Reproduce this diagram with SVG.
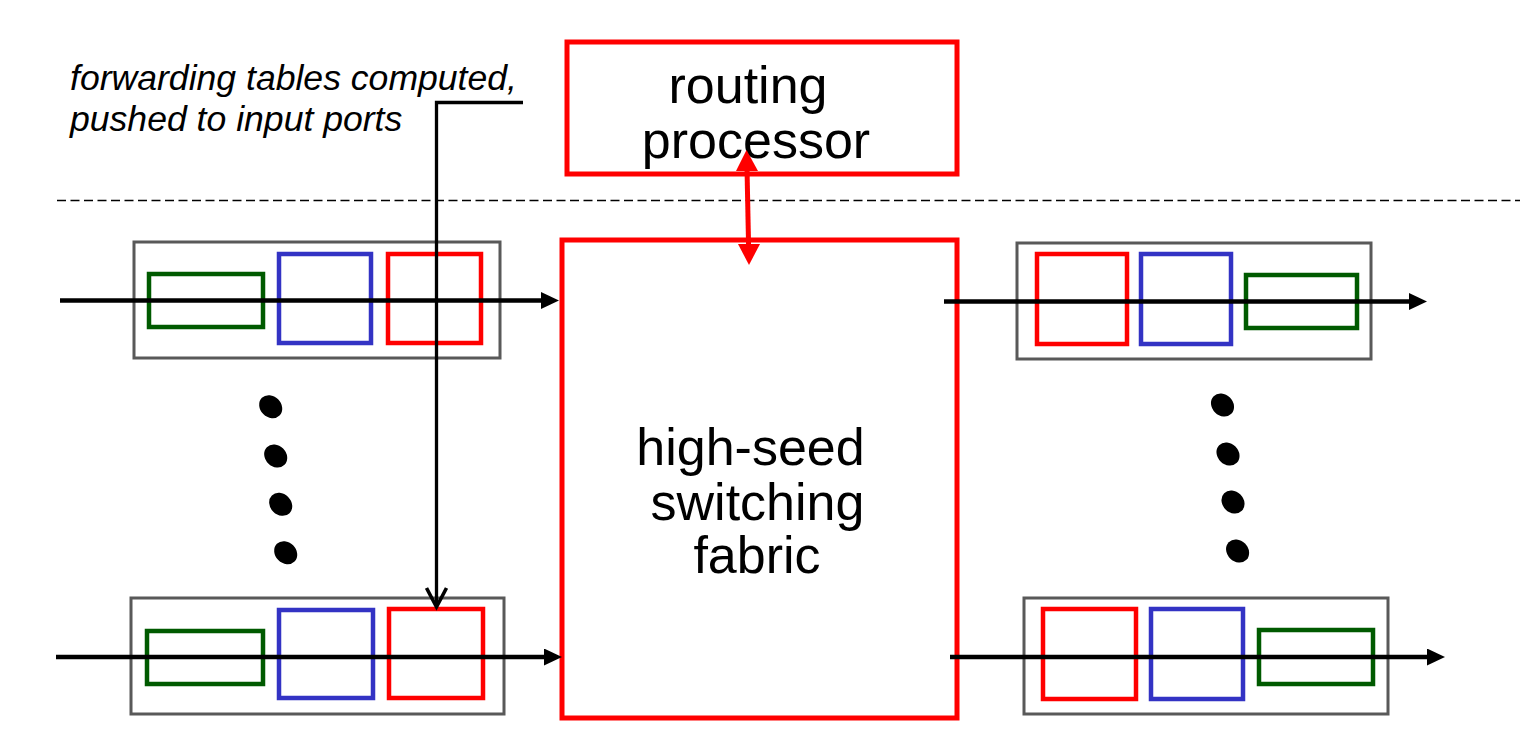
<svg xmlns="http://www.w3.org/2000/svg" width="1524" height="738" viewBox="0 0 1524 738">
<style>
  .port{fill:none;stroke:#595959;stroke-width:3}
  .g{fill:none;stroke:#005a00;stroke-width:4.5}
  .b{fill:none;stroke:#3333c4;stroke-width:4.5}
  .r{fill:none;stroke:#ff0000;stroke-width:4.5}
  .big{fill:none;stroke:#ff0000;stroke-width:5}
  .flow{stroke:#000;stroke-width:4.6;fill:none}
  .lbl{font-family:"Liberation Sans",Arial,sans-serif;fill:#000}
  .big-t{font-size:52px;text-anchor:middle}
  .note{font-size:35.6px;font-style:italic}
</style>
<defs>
  <marker id="ah" markerUnits="userSpaceOnUse" markerWidth="19" markerHeight="18" refX="2" refY="8.5" orient="auto">
    <path d="M0,0 L18,8.5 L0,17 z" fill="#000"/>
  </marker>
</defs>

<g id="note">
  <text class="lbl note" x="70" y="90">forwarding tables computed,</text>
  <text class="lbl note" x="70" y="131">pushed to input ports</text>
</g>

<g id="routing-processor">
  <rect class="big" x="567" y="42" width="390" height="132"/>
  <text class="lbl big-t" x="748" y="103">routing</text>
  <text class="lbl big-t" x="756" y="158">processor</text>
</g>

<line id="divider" x1="57" y1="200.5" x2="1520" y2="200.5" stroke="#000" stroke-width="1.5" stroke-dasharray="9,4.5"/>

<g id="switching-fabric">
  <rect class="big" x="562" y="240" width="395" height="478"/>
  <text class="lbl big-t" x="750.5" y="465">high-seed</text>
  <text class="lbl big-t" x="757.5" y="520">switching</text>
  <text class="lbl big-t" x="757" y="573">fabric</text>
</g>

<g id="input-port-top">
  <rect class="port" x="134" y="242" width="366" height="116"/>
  <rect class="g" x="149" y="274" width="114" height="53"/>
  <rect class="b" x="279" y="254" width="92" height="89"/>
  <rect class="r" x="388" y="254" width="93" height="89"/>
</g>

<g id="input-port-bottom">
  <rect class="port" x="131" y="598" width="373" height="116"/>
  <rect class="g" x="147" y="631" width="116" height="53"/>
  <rect class="b" x="279" y="610" width="94" height="88"/>
  <rect class="r" x="389" y="609" width="94" height="89"/>
</g>

<g id="output-port-top">
  <rect class="port" x="1017" y="243" width="354" height="116"/>
  <rect class="r" x="1037" y="254" width="90" height="90"/>
  <rect class="b" x="1141" y="254" width="90" height="90"/>
  <rect class="g" x="1246" y="275" width="111" height="53"/>
</g>

<g id="output-port-bottom">
  <rect class="port" x="1024" y="598" width="364" height="116"/>
  <rect class="r" x="1043" y="609" width="93" height="90"/>
  <rect class="b" x="1151" y="609" width="92" height="90"/>
  <rect class="g" x="1259" y="630" width="114" height="54"/>
</g>

<g id="dots-left" fill="#000">
  <ellipse cx="270.7" cy="406.7" rx="12.5" ry="10.5" transform="rotate(45 270.7 406.7)"/>
  <ellipse cx="275.7" cy="456" rx="12.5" ry="10.5" transform="rotate(45 275.7 456)"/>
  <ellipse cx="280.7" cy="504.3" rx="12.5" ry="10.5" transform="rotate(45 280.7 504.3)"/>
  <ellipse cx="285.7" cy="552.7" rx="12.5" ry="10.5" transform="rotate(45 285.7 552.7)"/>
</g>

<g id="dots-right" fill="#000">
  <ellipse cx="1222.5" cy="405" rx="12.5" ry="10.5" transform="rotate(45 1222.5 405)"/>
  <ellipse cx="1228" cy="454" rx="12.5" ry="10.5" transform="rotate(45 1228 454)"/>
  <ellipse cx="1233" cy="502" rx="12.5" ry="10.5" transform="rotate(45 1233 502)"/>
  <ellipse cx="1237.6" cy="551" rx="12.5" ry="10.5" transform="rotate(45 1237.6 551)"/>
</g>

<g id="connectors">
  <line class="flow" x1="60" y1="300.5" x2="543" y2="300.5" marker-end="url(#ah)"/>
  <line class="flow" x1="56" y1="657" x2="546" y2="657" marker-end="url(#ah)"/>
  <line class="flow" x1="944" y1="301.5" x2="1411" y2="301.5" marker-end="url(#ah)"/>
  <line class="flow" x1="950" y1="657" x2="1429" y2="657" marker-end="url(#ah)"/>
  <path d="M523,102.5 H436.5 V606" fill="none" stroke="#000" stroke-width="3.3"/>
  <path d="M426.5,588 L436.5,607 L446.5,588" fill="none" stroke="#000" stroke-width="3.6" stroke-linejoin="miter"/>
  <line x1="747" y1="168" x2="748.6" y2="247" stroke="#ff0000" stroke-width="5"/>
  <polygon points="746.5,150 758,171 736,171" fill="#ff0000"/>
  <polygon points="749,265 738,244 760,244" fill="#ff0000"/>
</g>
</svg>
